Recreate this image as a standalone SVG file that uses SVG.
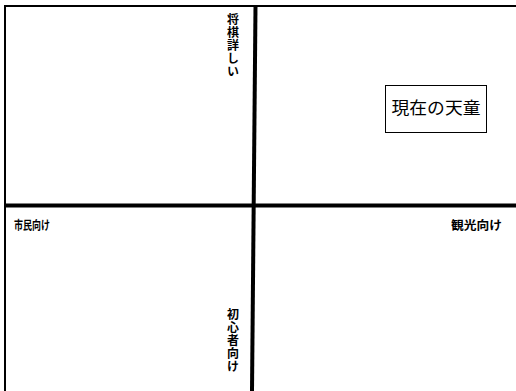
<svg xmlns="http://www.w3.org/2000/svg" width="516" height="391" viewBox="0 0 516 391">
<style>
.lbl{font-family:"Noto Sans CJK JP","Noto Sans CJK SC",sans-serif;font-weight:bold;fill:#000}
.vt{writing-mode:vertical-rl;text-orientation:upright;letter-spacing:1px}
.nt{font-family:"Noto Sans CJK JP","Noto Sans CJK SC",sans-serif;fill:#000}
.ax{stroke:#000;fill:none}
</style>
<rect width="516" height="391" fill="#fff"/>
<g id="connectors">
<path class="ax" d="M5,6 H516" stroke-width="2"/>
<path class="ax" d="M5,5 V391" stroke-width="2"/>
<path class="ax" d="M5,205.5 H516" stroke-width="4"/>
<path class="ax" d="M255.5,6 L252,391" stroke-width="4"/>
</g>
<g id="label-top">
<text class="lbl vt" font-size="12" x="233" y="13">将棋詳しい</text>
</g>
<g id="label-bottom">
<text class="lbl vt" font-size="12" x="233" y="308">初心者向け</text>
</g>
<g id="label-left">
<text class="lbl" font-size="12" x="14" y="230" textLength="36" lengthAdjust="spacingAndGlyphs">市民向け</text>
</g>
<g id="label-right">
<text class="lbl" font-size="12" x="451" y="230" textLength="51" lengthAdjust="spacingAndGlyphs">観光向け</text>
</g>
<g id="node-current">
<rect x="385.5" y="85.5" width="101" height="47" fill="#fff" stroke="#000" stroke-width="1"/>
<text class="nt" font-size="17" x="436" y="114" text-anchor="middle" textLength="89" lengthAdjust="spacingAndGlyphs">現在の天童</text>
</g>
</svg>
